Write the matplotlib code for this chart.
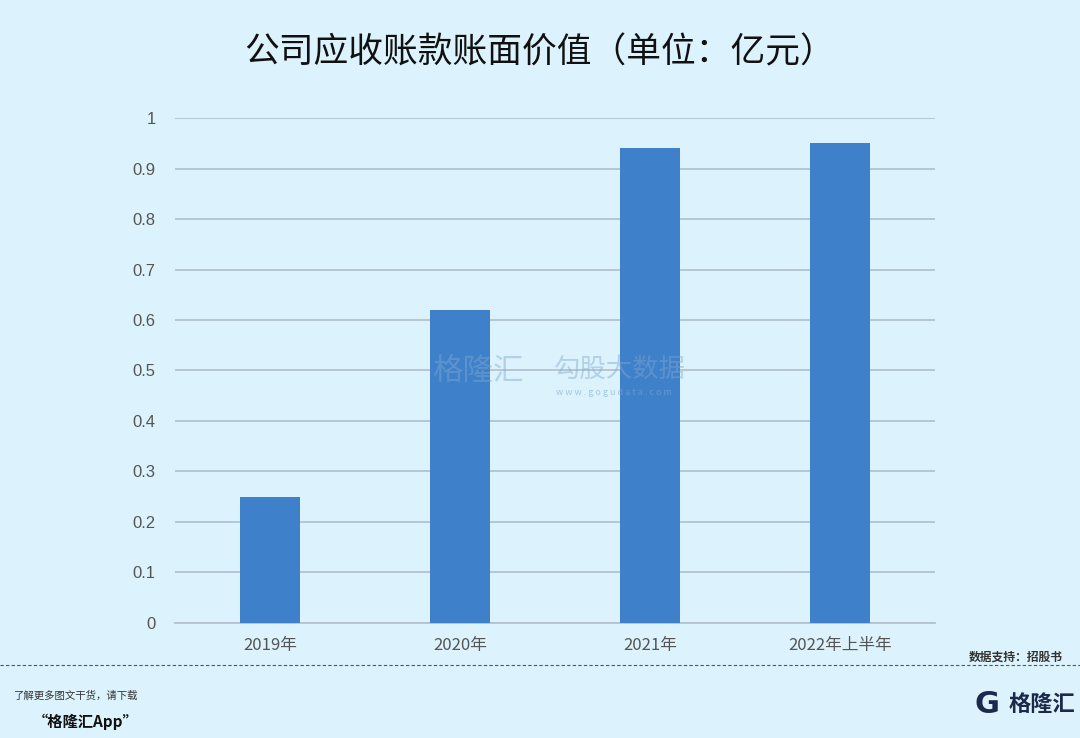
import matplotlib.pyplot as plt
from matplotlib.lines import Line2D

plt.rcParams['font.family'] = ['Noto Sans CJK SC', 'DejaVu Sans']

# Data
categories = ['2019年', '2020年', '2021年', '2022年上半年']
values = [0.25, 0.62, 0.94, 0.95]
yticks = [0, 0.1, 0.2, 0.3, 0.4, 0.5, 0.6, 0.7, 0.8, 0.9, 1]
ytick_labels = ['0', '0.1', '0.2', '0.3', '0.4', '0.5', '0.6', '0.7', '0.8', '0.9', '1']

bg = '#dcf3fd'
bar_color = '#3f80ca'

fig = plt.figure(figsize=(10.8, 7.38), dpi=100, facecolor=bg)
ax = fig.add_axes([0.162, 0.156, 0.704, 0.684], facecolor=bg)

x = list(range(len(categories)))
ax.bar(x, values, width=0.315, color=bar_color, zorder=3)
ax.set_xlim(-0.5, len(categories) - 0.5)
ax.set_ylim(0, 1)
ax.set_yticks(yticks)
ax.set_yticklabels(ytick_labels, fontsize=12, color='#555555', family=['Liberation Sans', 'DejaVu Sans'])
ax.set_xticks(x)
ax.set_xticklabels(categories, fontsize=12, color='#555555')
ax.tick_params(length=0, pad=14)
ax.tick_params(axis='x', pad=10)
ax.grid(axis='y', color='#b4c3cc', linewidth=1.3, zorder=0)
for s in ['top', 'right', 'left']:
    ax.spines[s].set_visible(False)
ax.spines['bottom'].set_color('#b4c3cc')
ax.spines['bottom'].set_linewidth(1.3)

fig.text(0.5, 0.928, '公司应收账款账面价值（单位：亿元）', ha='center', va='center',
         fontsize=25, color='#111111', fontweight='medium')

# watermark
fig.text(0.40, 0.497, '格隆汇', ha='left', va='center', fontsize=22, color='#7fa9cf', alpha=0.45, zorder=5)
fig.text(0.513, 0.500, '勾股大数据', ha='left', va='center', fontsize=19, color='#7fa9cf', alpha=0.45, zorder=5)
fig.text(0.515, 0.468, 'w w w . g o g u d a t a . c o m', ha='left', va='center', fontsize=6.5,
         color='#7fa9cf', alpha=0.6, zorder=5)

# footer
fig.add_artist(Line2D([0, 1], [0.099, 0.099], transform=fig.transFigure, color='#555555',
                      linestyle=(0, (3, 2)), linewidth=0.8))
fig.text(0.984, 0.11, '数据支持：招股书', ha='right', va='center', fontsize=8.5,
         color='#333333', fontweight='bold')
fig.text(0.012, 0.058, '了解更多图文干货，请下载', ha='left', va='center', fontsize=7.5,
         color='#333333', style='italic')
fig.text(0.03, 0.022, '“格隆汇App”', ha='left', va='center', fontsize=11,
         color='#111111', fontweight='bold', style='italic')
fig.text(0.996, 0.045, '格隆汇', ha='right', va='center', fontsize=16,
         color='#1b2a4a', fontweight='bold')
fig.text(0.925, 0.045, 'G', ha='right', va='center', fontsize=22,
         color='#1b2a4a', fontweight='bold', family=['DejaVu Sans'])

fig.savefig('out.png', dpi=100, facecolor=bg)
